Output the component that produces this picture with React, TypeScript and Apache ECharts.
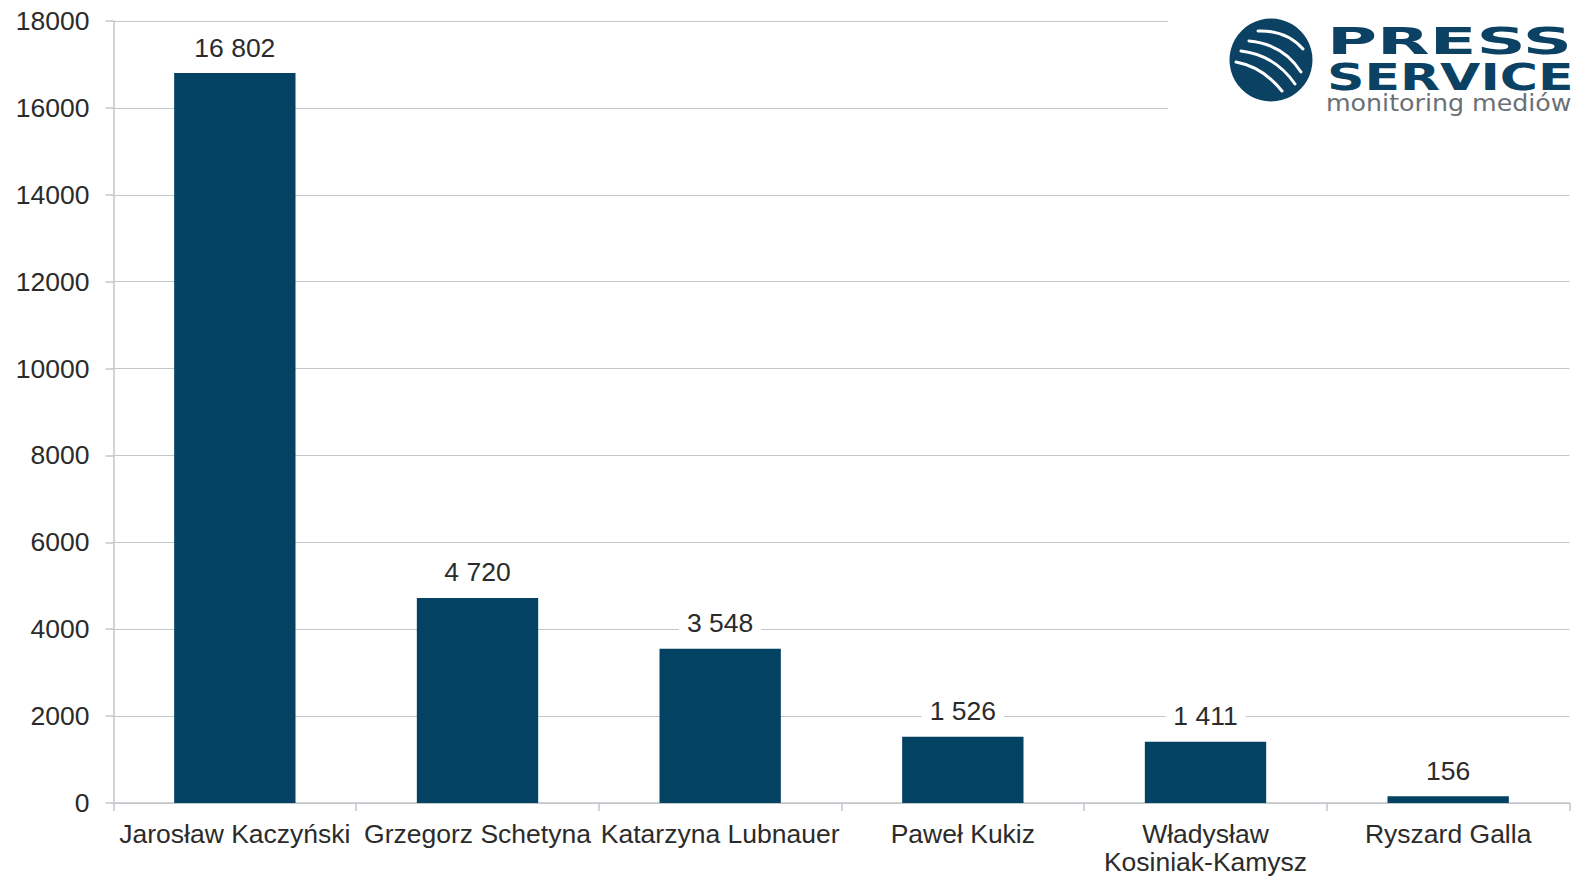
import React, { useEffect, useRef } from "react";
import * as echarts from "echarts";

const categories = [
  "Jarosław Kaczyński",
  "Grzegorz Schetyna",
  "Katarzyna Lubnauer",
  "Paweł Kukiz",
  "Władysław\nKosiniak-Kamysz",
  "Ryszard Galla",
];
const values = [16802, 4720, 3548, 1526, 1411, 156];
const yTicks = [0, 2000, 4000, 6000, 8000, 10000, 12000, 14000, 16000, 18000];

const fmt = (v: number) => String(v).replace(/\B(?=(\d{3})+(?!\d))/g, " ");

export default function App() {
  const ref = useRef<HTMLDivElement>(null);
  useEffect(() => {
    if (!ref.current) return;
    const chart = echarts.init(ref.current, undefined, { renderer: "svg" });
    const font = "'Liberation Sans', Arial, sans-serif";
    const txt = "#2b2b2b";
    const grid = "#c3c7cb";
    const navy = "#0b4163";
    const stripes = [
      [[1258, 31], [1286, 30], [1303, 49]],
      [[1249, 41], [1283, 44], [1301, 72]],
      [[1241, 51], [1275, 55], [1295, 84]],
      [[1236, 62], [1263, 67], [1282, 91]],
    ];
    chart.setOption({
      animation: false,
      backgroundColor: "#ffffff",
      grid: {
        left: 113.5,
        right: 4.5,
        top: 21,
        bottom: 75,
        containLabel: false,
        outerBoundsMode: "none",
      },
      xAxis: {
        type: "category",
        data: categories,
        axisLine: { show: true, lineStyle: { color: grid, width: 1.5 } },
        axisTick: { show: true, length: 8, lineStyle: { color: grid, width: 1.5 } },
        axisLabel: {
          color: txt,
          fontFamily: font,
          fontSize: 26.5,
          margin: 17,
          lineHeight: 28,
          interval: 0,
        },
      },
      yAxis: {
        type: "value",
        min: yTicks[0],
        max: yTicks[yTicks.length - 1],
        interval: 2000,
        axisLine: { show: true, lineStyle: { color: grid, width: 1.5 } },
        axisTick: { show: true, length: 8, lineStyle: { color: grid, width: 1.5 } },
        splitLine: { show: true, lineStyle: { color: grid, width: 1.2 } },
        axisLabel: {
          color: txt,
          fontFamily: font,
          fontSize: 26.5,
          margin: 24,
          formatter: (v: number) => String(v),
        },
      },
      series: [
        {
          type: "bar",
          data: values,
          barWidth: "50%",
          itemStyle: { color: "#034263" },
          label: {
            show: true,
            position: "top",
            distance: 12,
            color: txt,
            fontFamily: font,
            fontSize: 26.5,
            backgroundColor: "#ffffff",
            padding: [2, 8, 0, 8],
            formatter: (p: any) => fmt(p.value),
          },
        },
      ],
      graphic: [
        {
          type: "rect",
          shape: { x: 1168, y: 0, width: 410, height: 122 },
          style: { fill: "#ffffff" },
          z: 100,
        },
        {
          type: "circle",
          shape: { cx: 1271, cy: 60, r: 41.5 },
          style: { fill: navy },
          z: 101,
        },
        ...stripes.map((s) => ({
          type: "bezierCurve",
          shape: {
            x1: s[0][0], y1: s[0][1],
            cpx1: s[1][0], cpy1: s[1][1],
            x2: s[2][0], y2: s[2][1],
          },
          style: { stroke: "#ffffff", lineWidth: 3, fill: "none", lineCap: "round" },
          z: 102,
        })),
        {
          type: "text",
          x: 1327,
          y: 41,
          scaleX: 1.8,
          style: {
            text: "PRESS",
            fill: navy,
            font: "900 38px 'DejaVu Sans', sans-serif",
            verticalAlign: "middle",
            textAlign: "left",
          },
          z: 101,
        },
        {
          type: "text",
          x: 1327,
          y: 77,
          scaleX: 1.37,
          style: {
            text: "SERVICE",
            fill: navy,
            font: "900 38px 'DejaVu Sans', sans-serif",
            verticalAlign: "middle",
            textAlign: "left",
          },
          z: 101,
        },
        {
          type: "text",
          x: 1326,
          y: 103,
          scaleX: 1.1,
          style: {
            text: "monitoring mediów",
            fill: "#6b7075",
            font: "23px 'DejaVu Sans', sans-serif",
            verticalAlign: "middle",
            textAlign: "left",
          },
          z: 101,
        },
      ],
    });
    return () => chart.dispose();
  }, []);
  return <div ref={ref} style={{ width: 1574, height: 878, position: "absolute", left: 0, top: 0 }} />;
}
